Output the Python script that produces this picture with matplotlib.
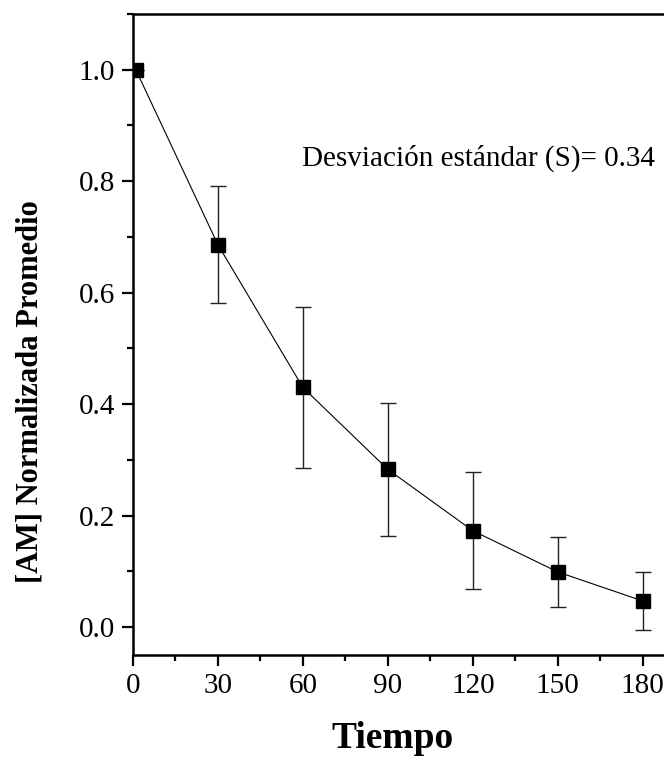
import matplotlib
matplotlib.use("Agg")
import matplotlib.pyplot as plt
from matplotlib.ticker import MultipleLocator

# data
tiempo = [1, 30, 60, 90, 120, 150, 180]
am_norm = [1.0, 0.686, 0.430, 0.283, 0.173, 0.099, 0.047]
am_err = [0.0, 0.105, 0.145, 0.119, 0.105, 0.063, 0.052]
nota = "Desviación estándar (S)= 0.34"

plt.rcParams['font.family'] = ['Liberation Serif', 'DejaVu Serif']

fig = plt.figure(figsize=(6.64, 7.61), dpi=100)
ax = fig.add_axes([0.2003, 0.1393, 0.8102, 0.8423])

ax.errorbar(tiempo, am_norm, yerr=am_err, fmt='-', color='black', lw=0.8,
            ecolor='#222222', elinewidth=1.0, capsize=6, capthick=1.0,
            marker='s', markersize=9.5, markerfacecolor='black',
            markeredgecolor='black')

ax.set_xlim(0, 190)
ax.set_ylim(-0.05, 1.1)
ax.xaxis.set_major_locator(MultipleLocator(30))
ax.xaxis.set_minor_locator(MultipleLocator(15))
ax.yaxis.set_major_locator(MultipleLocator(0.2))
ax.yaxis.set_minor_locator(MultipleLocator(0.1))
ax.yaxis.set_major_formatter(matplotlib.ticker.FormatStrFormatter('%.1f'))

for side in ['left', 'bottom', 'top', 'right']:
    ax.spines[side].set_linewidth(1.8)

ax.tick_params(which='major', direction='out', length=8, width=1.6,
               labelsize=21, pad=5)
ax.tick_params(which='minor', direction='out', length=4, width=1.6)

ax.text(302 / 664, 1 - 158 / 761, nota, transform=fig.transFigure,
        fontsize=21, ha='left', va='center')

fig.text(393 / 664, 1 - 738 / 761, "Tiempo", fontsize=27,
         fontweight='bold', ha='center', va='center')
fig.text(30 / 664, 1 - 392 / 761, "[AM] Normalizada Promedio", fontsize=22,
         fontweight='bold', ha='center', va='center', rotation=90)

fig.savefig("out.png", dpi=100)
